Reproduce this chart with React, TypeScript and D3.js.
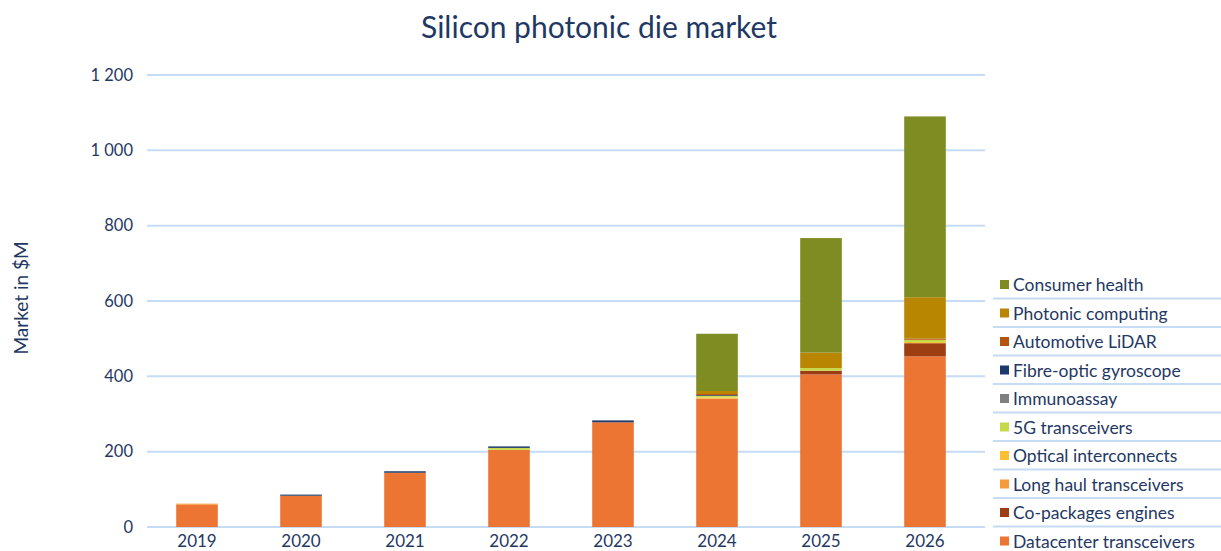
import React, { useEffect, useRef } from 'react';
import * as d3 from 'd3';

// Years on the x axis
const years = ['2019', '2020', '2021', '2022', '2023', '2024', '2025', '2026'];

// Series in stacking order (bottom to top)
const seriesNames = [
  'Datacenter transceivers',
  'Co-packages engines',
  'Long haul transceivers',
  'Optical interconnects',
  '5G transceivers',
  'Immunoassay',
  'Fibre-optic gyroscope',
  'Automotive LiDAR',
  'Photonic computing',
  'Consumer health',
];
const seriesColors = [
  '#ed7533', '#9c3d12', '#f79a3c', '#fdc030', '#c5d94a',
  '#7f7f7f', '#1b3a6b', '#b6520f', '#b88600', '#7e8c21',
];

// Values in $M, one array per series
const datacenter = [59, 83, 144, 205, 278, 341, 405, 453];
const coPackages = [0, 0, 0, 0, 0, 0, 10, 35];
const longHaul = [3, 0, 0, 0, 0, 0, 0, 0];
const opticalInterconnects = [0, 0, 0, 0, 0, 3, 0, 3];
const fiveG = [0, 0, 0, 5, 0, 4, 7, 6];
const immunoassay = [0, 0, 0, 0, 0, 0, 0, 0];
const fibreGyro = [0, 3, 4, 4, 5, 2, 0, 0];
const lidar = [0, 0, 0, 0, 0, 3, 0, 3];
const photonic = [0, 0, 0, 0, 0, 8, 41, 110];
const consumerHealth = [0, 0, 0, 0, 0, 152, 304, 480];

const seriesValues = [
  datacenter, coPackages, longHaul, opticalInterconnects, fiveG,
  immunoassay, fibreGyro, lidar, photonic, consumerHealth,
];

const yTicks = [0, 200, 400, 600, 800, 1000, 1200];

const FONT = 'Lato, "Open Sans", sans-serif';
const TEXT = '#1f3864';
const GRID = '#c6dcf6';

const App = () => {
  const svgRef = useRef<SVGSVGElement>(null);

  useEffect(() => {
    const svg = d3.select(svgRef.current);
    svg.selectAll('*').remove();

    const width = 1221;
    const height = 551;
    const plot = { left: 145, right: 977, top: 75, bottom: 527 };

    const rows = years.map((year, i) => {
      const row: any = { year };
      seriesNames.forEach((name, s) => { row[name] = seriesValues[s][i]; });
      return row;
    });

    const x = d3.scaleBand().domain(years).range([plot.left, plot.right])
      .paddingInner(0.6).paddingOuter(0.3);
    const y = d3.scaleLinear().domain([0, 1200]).range([plot.bottom, plot.top]);

    // Gridlines
    svg.append('g')
      .selectAll('line')
      .data(yTicks)
      .enter().append('line')
      .attr('x1', 147)
      .attr('x2', 985)
      .attr('y1', d => y(d))
      .attr('y2', d => y(d))
      .attr('stroke', GRID)
      .attr('stroke-width', 2);

    // Y tick labels
    svg.append('g')
      .selectAll('text')
      .data(yTicks)
      .enter().append('text')
      .attr('x', 133)
      .attr('y', d => y(d))
      .attr('dy', '0.35em')
      .attr('text-anchor', 'end')
      .attr('font-family', FONT)
      .attr('font-size', 16.5)
      .attr('fill', TEXT)
      .text(d => d3.format(',')(d).replace(',', ' '));

    // Stacked bars
    const stack = d3.stack<any>().keys(seriesNames);
    const layers = stack(rows);

    svg.append('g')
      .selectAll('g')
      .data(layers)
      .enter().append('g')
      .attr('fill', (d, i) => seriesColors[i])
      .selectAll('rect')
      .data(d => d.filter(p => p[1] - p[0] > 0))
      .enter().append('rect')
      .attr('x', d => x(d.data.year)!)
      .attr('width', x.bandwidth())
      .attr('y', d => y(d[1]))
      .attr('height', d => y(d[0]) - y(d[1]));

    // X labels
    svg.append('g')
      .selectAll('text')
      .data(years)
      .enter().append('text')
      .attr('x', d => x(d)! + x.bandwidth() / 2)
      .attr('y', 547)
      .attr('text-anchor', 'middle')
      .attr('font-family', FONT)
      .attr('font-size', 17)
      .attr('fill', TEXT)
      .text(d => d);

    // Title
    svg.append('text')
      .attr('x', 599)
      .attr('y', 38)
      .attr('text-anchor', 'middle')
      .attr('font-family', FONT)
      .attr('font-size', 30)
      .attr('fill', TEXT)
      .text('Silicon photonic die market');

    // Y axis title
    svg.append('text')
      .attr('transform', 'translate(28,298) rotate(-90)')
      .attr('text-anchor', 'middle')
      .attr('font-family', FONT)
      .attr('font-size', 19)
      .attr('fill', TEXT)
      .text('Market in $M');

    // Legend (top entry is the last series)
    const legendOrder = seriesNames.map((n, i) => i).reverse();
    const legend = svg.append('g');
    legendOrder.forEach((s, k) => {
      const cy = 285 + k * 28.5;
      legend.append('rect')
        .attr('x', 1000)
        .attr('y', cy - 5)
        .attr('width', 9)
        .attr('height', 9)
        .attr('fill', seriesColors[s]);
      legend.append('text')
        .attr('x', 1013)
        .attr('y', cy)
        .attr('dy', '0.35em')
        .attr('font-family', FONT)
        .attr('font-size', 17.5)
        .attr('fill', TEXT)
        .text(seriesNames[s]);
      if (k < legendOrder.length - 1) {
        legend.append('line')
          .attr('x1', 993)
          .attr('x2', width)
          .attr('y1', cy + 13.5)
          .attr('y2', cy + 13.5)
          .attr('stroke', GRID)
          .attr('stroke-width', 2);
      }
    });

    svg.attr('width', width).attr('height', height);
  }, []);

  return (
    <svg
      ref={svgRef}
      width={1221}
      height={551}
      style={{ position: 'absolute', left: 0, top: 0, background: '#fff' }}
    />
  );
};

export default App;
